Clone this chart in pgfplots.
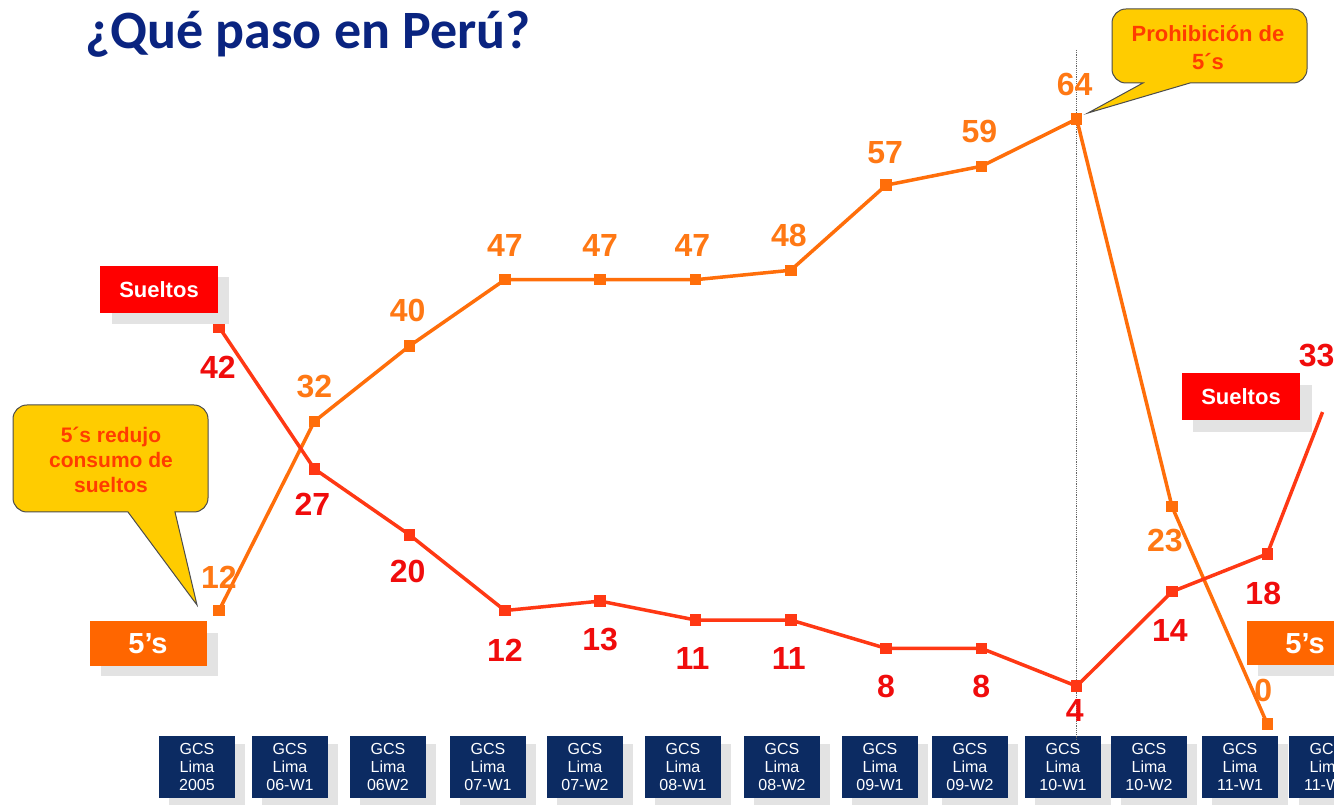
\documentclass[border=0pt]{standalone}
\usepackage{fontspec}
\setmainfont{Liberation Sans}
\newfontfamily\titlefont{Carlito}
\usepackage{pgfplots}
\pgfplotsset{compat=1.18}
\usetikzlibrary{shadows}

\definecolor{navy}{HTML}{0C2B62}
\definecolor{titleblue}{HTML}{0A2480}
\definecolor{orline}{HTML}{FF6E0A}
\definecolor{orlab}{HTML}{FF7814}
\definecolor{redline}{HTML}{FF3814}
\definecolor{redlab}{HTML}{F00C0C}
\definecolor{callout}{HTML}{FFCC00}
\definecolor{callouttext}{HTML}{FF3C00}
\definecolor{boxred}{HTML}{FF0000}
\definecolor{boxorange}{HTML}{FF6600}
\definecolor{shadowgray}{HTML}{E3E3E3}

\tikzset{
  ol/.style={text=orlab, font=\bfseries\fontsize{32}{32}\selectfont},
  rl/.style={text=redlab, font=\bfseries\fontsize{32}{32}\selectfont},
}

\begin{document}
\begin{tikzpicture}[x=1pt,y=1pt]
\useasboundingbox (0,0) rectangle (1334,805);
\clip (0,0) rectangle (1334,805);

\begin{axis}[
  at={(0pt,75pt)}, anchor=south west,
  scale only axis, width=1334pt, height=730pt,
  xmin=-2.298, xmax=11.70, ymin=-0.635, ymax=76.59,
  axis line style={draw=none}, major tick length=0pt,
  ytick=\empty,
  xtick={-0.231,0.745,1.773,2.823,3.840,4.869,5.908,6.936,7.880,8.856,9.759,10.714,11.627},
  xticklabels={{GCS\\Lima\\2005},{GCS\\Lima\\06-W1},{GCS\\Lima\\06W2},{GCS\\Lima\\07-W1},
    {GCS\\Lima\\07-W2},{GCS\\Lima\\08-W1},{GCS\\Lima\\08-W2},{GCS\\Lima\\09-W1},
    {GCS\\Lima\\09-W2},{GCS\\Lima\\10-W1},{GCS\\Lima\\10-W2},{GCS\\Lima\\11-W1},{GCS\\Lima\\11-W2}},
  xticklabel style={fill=navy, text=white, align=center, inner sep=0pt,
    minimum width=76pt, minimum height=62pt, anchor=north, yshift=-6pt,
    font=\fontsize{16}{18}\selectfont,
    drop shadow={shadow xshift=10pt, shadow yshift=-8pt, fill=shadowgray, opacity=1}},
  clip=false,
]
\draw[gray!80!black, densely dotted, line width=1.2pt] (axis cs:9,71.3) -- (axis cs:9,-1.7);

\addplot[orline, line width=3.5pt, mark=square*, mark size=4pt] coordinates
  {(0,12)(1,32)(2,40)(3,47)(4,47)(5,47)(6,48)(7,57)(8,59)(9,64)(10,23)(11,0)};
\addplot[redline, line width=3.5pt, mark=square*, mark size=4pt, mark indices={1,...,12}] coordinates
  {(0,42)(1,27)(2,20)(3,12)(4,13)(5,11)(6,11)(7,8)(8,8)(9,4)(10,14)(11,18)(11.58,33)};

% labels of the 5's series
\node[ol, yshift=33pt] at (axis cs:0,12) {12};
\node[ol, yshift=35pt] at (axis cs:1,32) {32};
\node[ol, yshift=35pt, xshift=-2pt] at (axis cs:2,40) {40};
\node[ol, yshift=34pt] at (axis cs:3,47) {47};
\node[ol, yshift=34pt] at (axis cs:4,47) {47};
\node[ol, yshift=34pt, xshift=-3pt] at (axis cs:5,47) {47};
\node[ol, yshift=35pt, xshift=-2pt] at (axis cs:6,48) {48};
\node[ol, yshift=33pt, xshift=-1pt] at (axis cs:7,57) {57};
\node[ol, yshift=35pt, xshift=-2pt] at (axis cs:8,59) {59};
\node[ol, yshift=35pt, xshift=-2pt] at (axis cs:9,64) {64};
\node[ol, yshift=-34pt, xshift=-7pt] at (axis cs:10,23) {23};
\node[ol, yshift=34pt, xshift=-4pt] at (axis cs:11,0) {0};

% labels of the sueltos series
\node[rl, yshift=-40pt, xshift=-1pt] at (axis cs:0,42) {42};
\node[rl, yshift=-36pt, xshift=-2pt] at (axis cs:1,27) {27};
\node[rl, yshift=-37pt, xshift=-2pt] at (axis cs:2,20) {20};
\node[rl, yshift=-40pt] at (axis cs:3,12) {12};
\node[rl, yshift=-38pt] at (axis cs:4,13) {13};
\node[rl, yshift=-38pt, xshift=-3pt] at (axis cs:5,11) {11};
\node[rl, yshift=-38pt, xshift=-2pt] at (axis cs:6,11) {11};
\node[rl, yshift=-38pt] at (axis cs:7,8) {8};
\node[rl, yshift=-38pt] at (axis cs:8,8) {8};
\node[rl, yshift=-24pt, xshift=-2pt] at (axis cs:9,4) {4};
\node[rl, yshift=-39pt, xshift=-2pt] at (axis cs:10,14) {14};
\node[rl, yshift=-40pt, xshift=-4pt] at (axis cs:11,18) {18};
\node[rl, yshift=57pt, xshift=-6pt] at (axis cs:11.58,33) {33};
\end{axis}

\begin{scope}[shift={(0pt,805pt)}, x=1pt, y=-1pt]
% title
\node[anchor=base west, inner sep=0pt, text=titleblue,
  font=\titlefont\bfseries\fontsize{54}{54}\selectfont] at (85,49) {¿Qué paso en Perú?};

% series boxes with shadows
\fill[shadowgray] (112,277) rectangle (229,324);
\fill[boxred] (100,266) rectangle (218,313);
\node[text=white, font=\bfseries\fontsize{22}{22}\selectfont] at (159,290) {Sueltos};

\fill[shadowgray] (101,633) rectangle (218,676);
\fill[boxorange] (90,621) rectangle (207,666);
\node[text=white, font=\bfseries\fontsize{29}{29}\selectfont] at (148,644) {5’s};

\fill[shadowgray] (1193,385) rectangle (1312,432);
\fill[boxred] (1182,373) rectangle (1300,420);
\node[text=white, font=\bfseries\fontsize{22}{22}\selectfont] at (1241,397) {Sueltos};

\fill[shadowgray] (1258,633) rectangle (1340,676);
\fill[boxorange] (1247,621) rectangle (1340,665);
\node[text=white, font=\bfseries\fontsize{29}{29}\selectfont] at (1305,644) {5’s};

% callouts
\draw[fill=callout, draw=black!70, line width=1pt]
  (197,605) -- (128,512) [rounded corners=14pt] -- (13,512) -- (13,405) -- (208,405) -- (208,512) [sharp corners] -- (175,512) -- cycle;
\node[align=center, text=callouttext, font=\bfseries\fontsize{21}{25}\selectfont] at (111,460)
  {5´s redujo\\consumo de\\sueltos};

\draw[fill=callout, draw=black!70, line width=1pt]
  (1088,113) -- (1143,83) [rounded corners=14pt] -- (1112,83) -- (1112,9) -- (1307,9) -- (1307,83) [sharp corners] -- (1190,83) -- cycle;
\node[align=center, text=callouttext, font=\bfseries\fontsize{22}{28}\selectfont] at (1208,48)
  {Prohibición de\\5´s};
\end{scope}
\end{tikzpicture}
\end{document}
